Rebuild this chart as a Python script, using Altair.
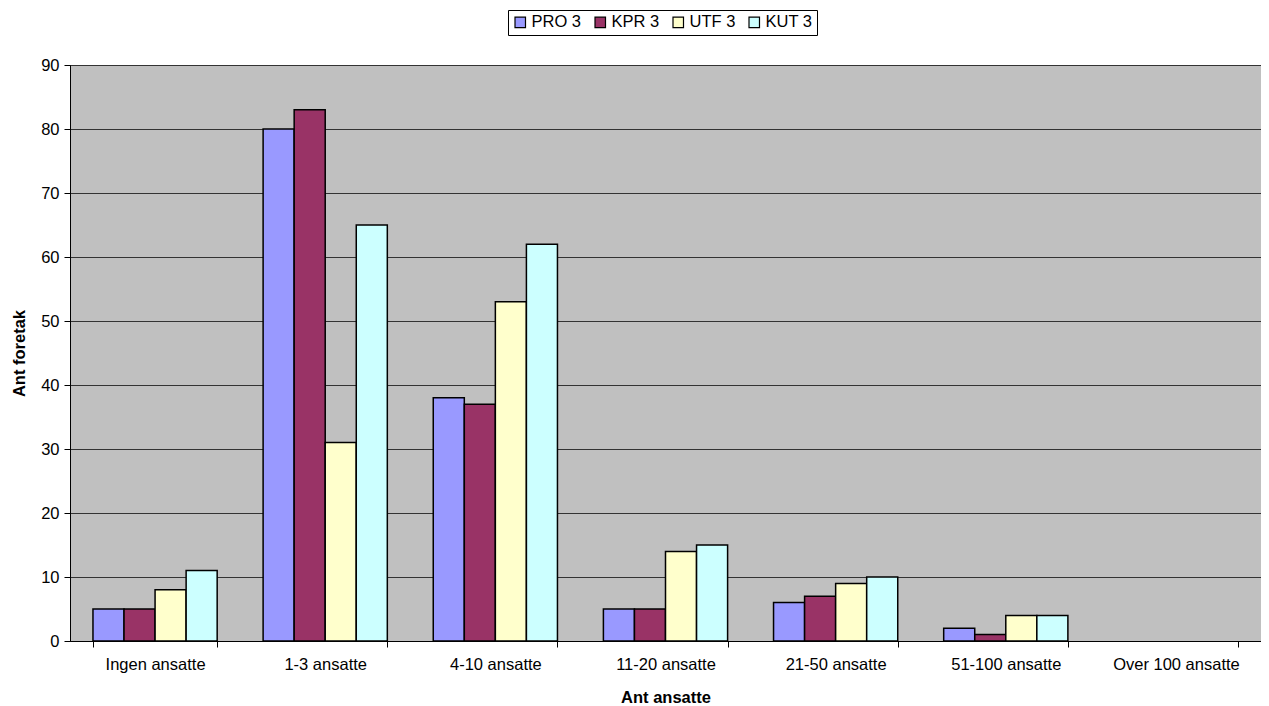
import altair as alt
import pandas as pd

categories = ["Ingen ansatte", "1-3 ansatte", "4-10 ansatte", "11-20 ansatte",
              "21-50 ansatte", "51-100 ansatte", "Over 100 ansatte"]
series = ["PRO 3", "KPR 3", "UTF 3", "KUT 3"]
pro3 = [5, 80, 38, 5, 6, 2, 0]
kpr3 = [5, 83, 37, 5, 7, 1, 0]
utf3 = [8, 31, 53, 14, 9, 4, 0]
kut3 = [11, 65, 62, 15, 10, 4, 0]
colors = ["#9999FF", "#993366", "#FFFFCC", "#CCFFFF"]

rows = []
for s, vals in zip(series, [pro3, kpr3, utf3, kut3]):
    for c, v in zip(categories, vals):
        rows.append({"cat": c, "series": s, "value": v})
df = pd.DataFrame(rows)

font = "Liberation Sans"
fs = 16.5

chart = alt.Chart(df).mark_bar(stroke="black", strokeWidth=1.5).encode(
    x=alt.X("cat:N", sort=categories, title="Ant ansatte",
            scale=alt.Scale(paddingInner=0.27, paddingOuter=0.135),
            axis=alt.Axis(labelAngle=0, tickBand="extent", grid=False,
                          tickSize=6, tickColor="black", domainColor="black",
                          labelPadding=9, labelFontSize=fs, labelFont=font,
                          labelColor="black", titleFont=font, titleFontSize=fs,
                          titleFontWeight="bold", titleColor="black",
                          titlePadding=17)),
    xOffset=alt.XOffset("series:N", sort=series),
    y=alt.Y("value:Q", title="Ant foretak",
            scale=alt.Scale(domain=[0, 90], nice=False),
            axis=alt.Axis(values=list(range(0, 91, 10)), grid=True,
                          gridColor="#333333", gridWidth=1,
                          tickSize=6, tickColor="black", domainColor="black",
                          labelPadding=5, labelFontSize=fs, labelFont=font,
                          labelColor="black", titleFont=font, titleFontSize=fs,
                          titleFontWeight="bold", titleColor="black",
                          titlePadding=13)),
    color=alt.Color("series:N", sort=series,
                    scale=alt.Scale(domain=series, range=colors),
                    legend=alt.Legend(title=None, orient="none", direction="horizontal",
                                      legendX=438, legendY=-55,
                                      symbolType="square", symbolSize=110,
                                      symbolStrokeColor="black", symbolStrokeWidth=1.2,
                                      symbolOpacity=1,
                                      labelFont=font, labelFontSize=fs, labelColor="black",
                                      labelOffset=3, columnPadding=10,
                                      strokeColor="black", padding=4,
                                      fillColor="white")),
    strokeOpacity=alt.condition(alt.datum.value > 0, alt.value(1), alt.value(0)),
).properties(
    width=1191, height=576,
    autosize=alt.AutoSizeParams(type="none"),
    padding={"left": 62, "top": 57, "right": 0, "bottom": 70},
).configure_view(fill="#C0C0C0", stroke="black", strokeWidth=1)

chart.save("out.html", embed_options={"renderer": "svg", "actions": False})
